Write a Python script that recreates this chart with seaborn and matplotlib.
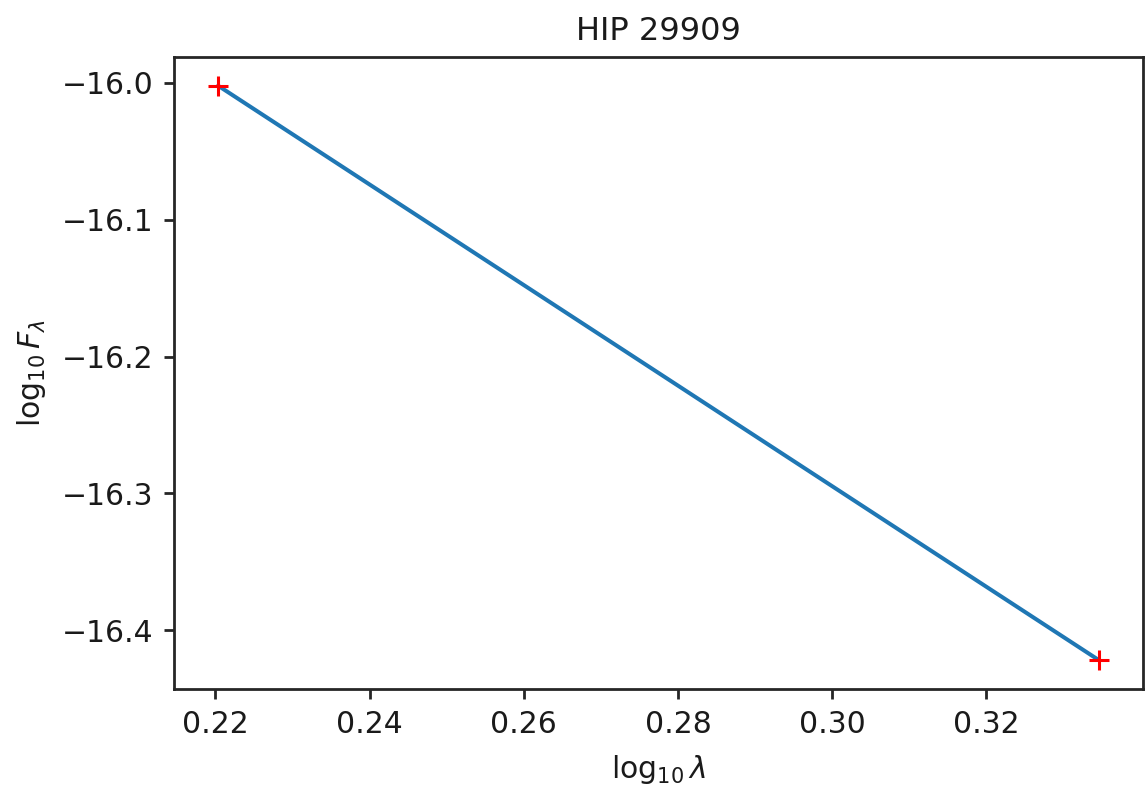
import numpy as np
import pandas as pd
import matplotlib
matplotlib.use("Agg")
import matplotlib.pyplot as plt
import seaborn as sns

# === Data ===
title = "HIP 29909"
log_wave = [0.22035, 0.33462]
log_flux = [-16.002, -16.422]
x_ticks = [0.22, 0.24, 0.26, 0.28, 0.30, 0.32]
y_ticks = [-16.0, -16.1, -16.2, -16.3, -16.4]

df = pd.DataFrame({"log_wave": log_wave, "log_flux": log_flux})

# === Plot ===
sns.set_theme(style="ticks")
plt.rcParams['font.family'] = ['DejaVu Sans']
plt.rcParams['mathtext.fontset'] = 'dejavusans'

fig = plt.figure(figsize=(11.45, 7.91), dpi=100)
ax = fig.add_axes([0.152, 0.129, 0.8463, 0.799])

sns.lineplot(data=df, x="log_wave", y="log_flux", ax=ax,
             color="#1f77b4", linewidth=2.9)
sns.scatterplot(data=df, x="log_wave", y="log_flux", ax=ax,
                marker="+", color="red", s=190, linewidth=2.2, zorder=3)

ax.set_xticks(x_ticks)
ax.set_yticks(y_ticks)
ax.set_xticklabels([f"{v:.2f}" for v in x_ticks])
ax.set_yticklabels([f"\u2212{abs(v):.1f}" for v in y_ticks])
ax.margins(x=0.05, y=0.05)

for sp in ax.spines.values():
    sp.set_visible(True)
    sp.set_linewidth(2.0)
    sp.set_color("#262626")
ax.tick_params(axis="both", labelsize=21.5, width=2.0, length=7,
               color="#262626", labelcolor="#1a1a1a", pad=8)

ax.set_title(title, fontsize=23, color="#1a1a1a", pad=12)
ax.set_xlabel(r"$\log_{10}\lambda$", fontsize=21.5, color="#1a1a1a", labelpad=10)
ax.set_ylabel(r"$\log_{10}F_\lambda$", fontsize=21.5, color="#1a1a1a", labelpad=10)

fig.savefig("out.png", dpi=100)
